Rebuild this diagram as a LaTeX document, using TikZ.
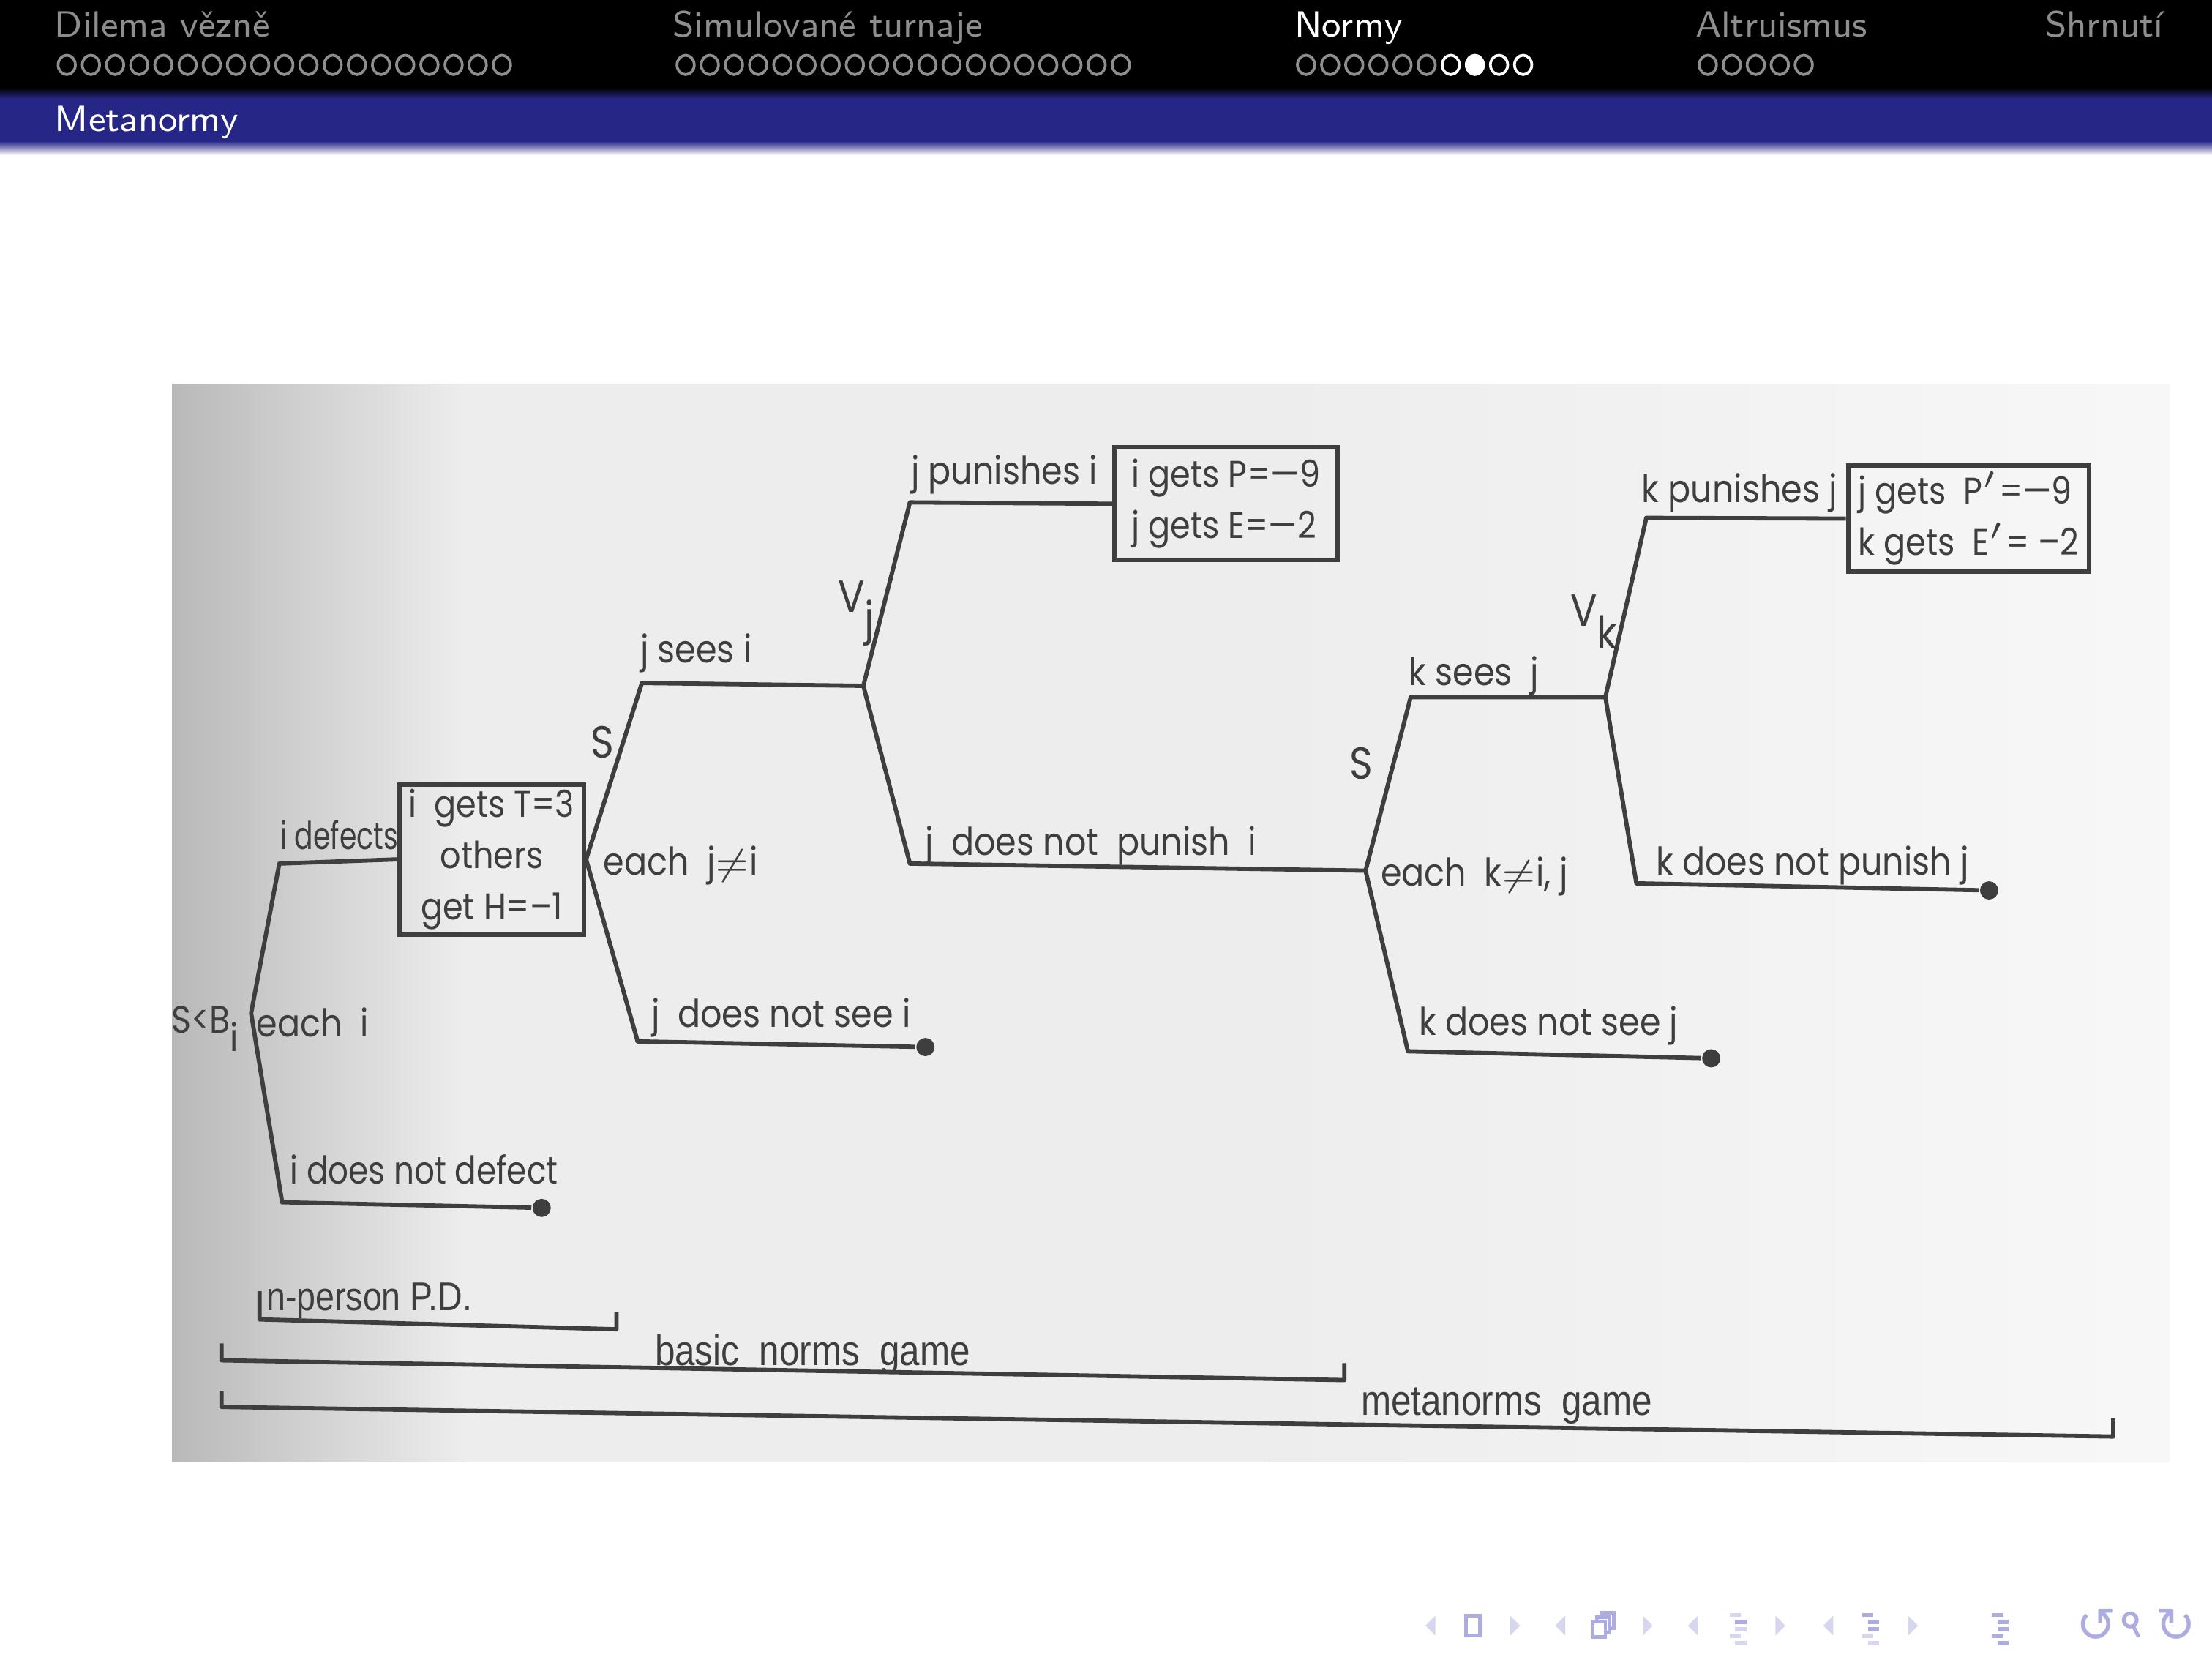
\documentclass[tikz,border=0pt]{standalone}
\usepackage{fontspec}
\newfontfamily\scanfont[FakeStretch=0.88]{Poppins}
\newfontfamily\bracefont[FakeStretch=0.85]{Liberation Sans}
\newfontfamily\navfont{DejaVu Sans}
\usetikzlibrary{positioning}
\definecolor{barblue}{RGB}{38,38,134}
\definecolor{ink}{RGB}{62,62,62}
\definecolor{headgray}{RGB}{142,142,142}
\definecolor{navlight}{RGB}{214,214,238}
\definecolor{navdark}{RGB}{172,172,222}
\definecolor{paper}{RGB}{237,237,237}
\tikzset{%
	branch/.style={draw=ink, line width=0.7pt, line join=round},
	lbl/.style={text=ink, font=\scanfont\fontsize{6.3}{7}\selectfont, inner sep=0pt, anchor=west, text height=4.6pt, text depth=0pt},
	biglbl/.style={lbl, anchor=center, font=\scanfont\fontsize{7.4}{8}\selectfont},
	payoff/.style={draw=ink, line width=0.7pt, text=ink, font=\scanfont\fontsize{6.1}{8.4}\selectfont, inner sep=0.8pt},
	leaf/.style={circle, fill=ink, inner sep=0pt, minimum size=3pt},
	bracelbl/.style={text=ink, font=\bracefont\fontsize{7}{8}\selectfont, inner sep=0pt},
	secname/.style={font=\sffamily\fontsize{6.0}{7}\selectfont, text=headgray, inner sep=0pt, anchor=base west},
	mini/.style={draw=headgray, line width=0.45pt},
	navtri/.style={fill=navlight},
	navsym/.style={draw=navdark, line width=0.6pt}
}

\begin{document}
\begin{tikzpicture}[x=0.08163mm, y=-0.08163mm]
	\useasboundingbox (0,0) rectangle (1568,1176);
	\fill[white] (0,0) rectangle (1568,1176);

	% headline
	\fill[black] (0,0) rectangle (1568,62);
	\shade[top color=black, bottom color=barblue] (0,62) rectangle (1568,70);
	\fill[barblue] (0,70) rectangle (1568,100);
	\shade[top color=barblue, bottom color=white] (0,100) rectangle (1568,110);

	\node[secname] (dilema) at (38,26) {Dilema vězně};
	\node[secname] (turnaje) at (476,26) {Simulované turnaje};
	\node[secname, text=white] (normy) at (917,26) {Normy};
	\node[secname] (altru) at (1201,26) {Altruismus};
	\node[secname] (shrnuti) at (1449,26) {Shrnutí};
	\node[secname, text=white] (metanormy) at (38,93) {Metanormy};

	\foreach \i in {0,...,18} {
		\draw[mini] (47.3+\i*17.14,46) ellipse [x radius=0.5mm, y radius=0.56mm];
		\draw[mini] (486+\i*17.14,46) ellipse [x radius=0.5mm, y radius=0.56mm];
	}
	\foreach \i in {0,...,5}
		\draw[mini] (925.8+\i*17.1,46) ellipse [x radius=0.5mm, y radius=0.56mm];
	\foreach \i in {6,8,9}
		\draw[mini, draw=white] (925.8+\i*17.1,46) ellipse [x radius=0.5mm, y radius=0.56mm];
	\filldraw[mini, draw=white, fill=white] (925.8+7*17.1,46) ellipse [x radius=0.5mm, y radius=0.56mm];
	\foreach \i in {0,...,4}
		\draw[mini] (1210.6+\i*17,46) ellipse [x radius=0.5mm, y radius=0.56mm];

	% the scanned sheet
	\fill[paper] (122,272) rectangle (1538,1036);
	\shade[left color=gray!55, right color=paper] (122,272) rectangle (330,1036);
	\shade[left color=paper, right color=gray!6] (900,272) rectangle (1538,1036);

	% tree
	\coordinate (root) at (178,718);
	\coordinate (defc) at (198,612);
	\coordinate (nodefc) at (200,852);
	\node[leaf] (nodef) at (384,856) {};
	\node[payoff, minimum width=10.69mm, minimum height=8.33mm, align=center] (gain) at (348.5,609)
		{i\ \ gets T=3\\others\\get H=–1};

	\coordinate (seec) at (455,484);
	\coordinate (vj) at (612,486);
	\coordinate (noseec) at (452,738);
	\node[leaf] (nosee) at (656,742) {};

	\coordinate (punc) at (645,356);
	\node[payoff, minimum width=12.9mm, minimum height=6.53mm, align=left] (pun) at (869,357)
		{i gets P=—9\\j gets E=—2};
	\coordinate (nopunc) at (645,612);
	\coordinate (kk) at (968,617);

	\coordinate (kseec) at (1000,494);
	\coordinate (vk) at (1138,494);
	\coordinate (knoseec) at (998,745);
	\node[leaf] (knosee) at (1213,750) {};

	\coordinate (kpunc) at (1167,367);
	\node[payoff, minimum width=13.96mm, minimum height=6.12mm, align=left] (metapun) at (1395.5,367.5)
		{j gets\ \ P$'$=—9\\k gets\ \ E$'$=\ –2};
	\coordinate (knopunc) at (1160,626);
	\node[leaf] (knopun) at (1410,631) {};

	\draw[branch] (gain.west) -- (defc) -- (root) -- (nodefc) -- (nodef);
	\draw[branch] (vj) -- (seec) -- (gain.east) -- (noseec) -- (nosee);
	\draw[branch] (pun.west) -- (punc) -- (vj) -- (nopunc) -- (kk);
	\draw[branch] (vk) -- (kseec) -- (kk) -- (knoseec) -- (knosee);
	\draw[branch] (metapun.west) -- (kpunc) -- (vk) -- (knopunc) -- (knopun);

	% labels
	\node[lbl, anchor=east] (sbi) at (170,722) {S<B\raisebox{-0.9ex}{i}};
	\node[lbl] (eachi) at (181,725) {each\ \ i};
	\node[lbl] (ldef) at (198,592) {\scalebox{0.82}[1]{i defects}};
	\node[lbl] (lnodef) at (205,829) {\scalebox{0.95}[1]{i does not defect}};
	\node[biglbl] (s1) at (427,527) {S};
	\node[lbl] (eachj) at (427,610) {each\ \ j$\neq$i};
	\node[lbl] (lsee) at (453,460) {j sees i};
	\node[lbl] (lnosee) at (461,718) {j\ \ does not see i};
	\node[biglbl] (vjl) at (607,424) {V\raisebox{-0.9ex}{j}};
	\node[lbl] (lpun) at (645,333) {j punishes i};
	\node[lbl] (lnopun) at (655,596) {j\ \ does not\ \ punish\ \ i};
	\node[biglbl] (s2) at (965,542) {S};
	\node[lbl] (eachk) at (978,618) {each\ \ k$\neq$i, j};
	\node[lbl] (lksee) at (998,476) {k sees\ \ j};
	\node[lbl] (lknosee) at (1005,724) {k does not see j};
	\node[biglbl] (vkl) at (1130,434) {V\raisebox{-0.9ex}{k}};
	\node[lbl] (lkpun) at (1163,346) {k punishes j};
	\node[lbl] (lknopun) at (1173,610) {k does not punish j};

	% game brackets
	\coordinate (pdtop) at (184,915);
	\coordinate (pdleft) at (184,935);
	\coordinate (pdright) at (437,942);
	\coordinate (pdend) at (437,930);
	\draw[branch] (pdtop) -- (pdleft) -- (pdright) -- (pdend);
	\node[bracelbl, anchor=west, font=\bracefont\fontsize{6.6}{8}\selectfont] (pd) at (188,922) {n-person P.D.};

	\coordinate (bntop) at (157,952);
	\coordinate (bnleft) at (157,964);
	\coordinate (bnright) at (953,978);
	\coordinate (bnend) at (953,966);
	\draw[branch] (bntop) -- (bnleft) -- (bnright) -- (bnend);
	\node[bracelbl] (bn) at (576,960) {basic\ \ norms\ \ game};

	\coordinate (mntop) at (157,986);
	\coordinate (mnleft) at (157,997);
	\coordinate (mnright) at (1498,1018);
	\coordinate (mnend) at (1498,1005);
	\draw[branch] (mntop) -- (mnleft) -- (mnright) -- (mnend);
	\node[bracelbl] (mn) at (1068,996) {metanorms\ \ game};

	% navigation symbols
	\foreach \x in {1014,1106,1200,1296}
		\fill[navtri] (\x-3.5,1152) -- (\x+3.5,1145) -- (\x+3.5,1159) -- cycle;
	\foreach \x in {1074,1168,1262,1356}
		\fill[navtri] (\x+3.5,1152) -- (\x-3.5,1145) -- (\x-3.5,1159) -- cycle;
	\draw[navsym] (1039,1145) rectangle (1049,1159);
	\foreach \d in {6,3,0}
		\filldraw[navsym, fill=white] (1129+\d,1149-\d) rectangle (1138+\d,1160-\d);
	\foreach \x/\a/\b/\c/\e/\f in {1232/navlight/navdark/navlight/navlight/navlight,1326/navdark/navdark/navdark/navlight/navlight,1418/navdark/navdark/navdark/navdark/navdark} {
		\fill[\a] (\x-6,1143) rectangle (\x+2,1146);
		\fill[\b] (\x-2,1148) rectangle (\x+6,1151);
		\fill[\c] (\x-2,1153) rectangle (\x+6,1156);
		\fill[\e] (\x-6,1158) rectangle (\x+2,1161);
		\fill[\f] (\x-2,1163) rectangle (\x+6,1166);
	}
	\node[text=navdark, font=\navfont\fontsize{8}{8}\selectfont, inner sep=0pt] (undo) at (1486,1152) {↺};
	\draw[navsym] (1510,1148) circle [radius=0.38mm];
	\draw[navsym] (1512,1152) -- (1516,1160);
	\node[text=navdark, font=\navfont\fontsize{8}{8}\selectfont, inner sep=0pt] (redo) at (1542,1152) {↻};
\end{tikzpicture}
\end{document}
